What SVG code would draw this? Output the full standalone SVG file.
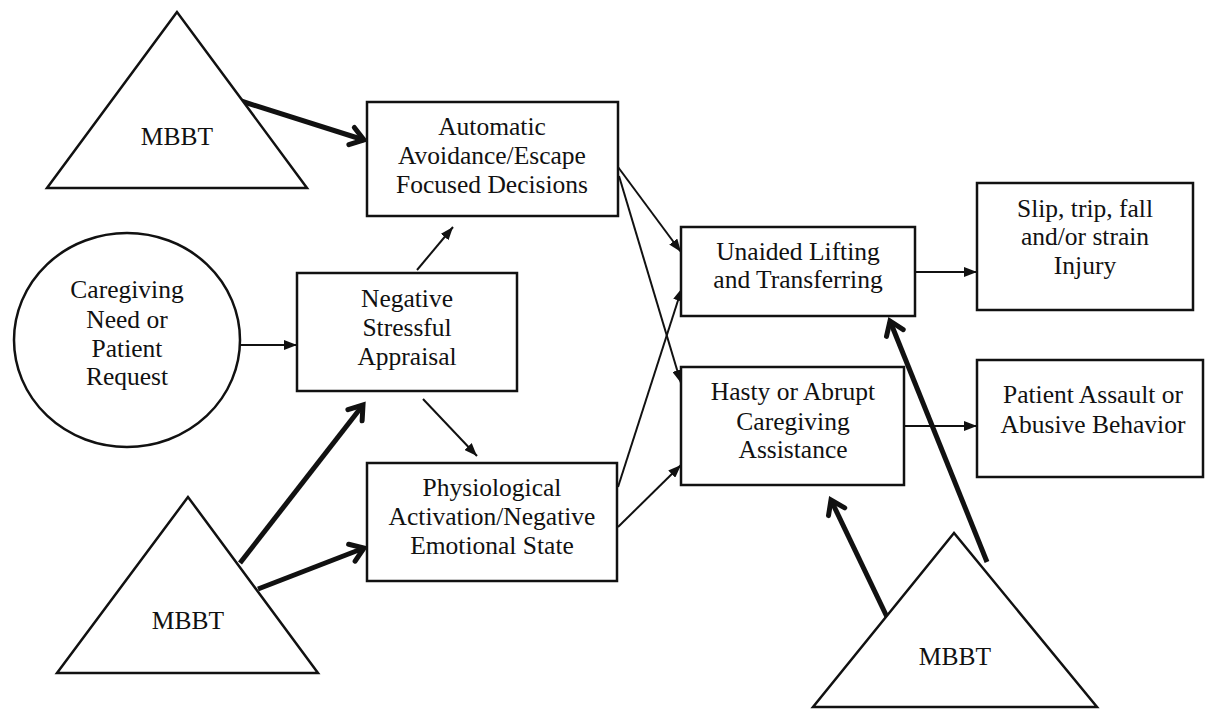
<svg xmlns="http://www.w3.org/2000/svg" width="1205" height="709" viewBox="0 0 1205 709">
<style>
.shape{fill:#fff;stroke:#111;stroke-width:2.5}
.t{font-family:'Liberation Serif','Tinos','Times New Roman','Nimbus Roman','DejaVu Serif','Noto Serif',serif;font-size:25.5px;fill:#111;text-anchor:middle}
.thin{stroke:#111;stroke-width:2;fill:none;marker-end:url(#headThin)}
.thick{stroke:#111;stroke-width:5;fill:none;marker-end:url(#headThick)}
</style>
<defs>
<marker id="headThin" viewBox="0 0 13 10" refX="13" refY="5" markerWidth="13" markerHeight="10" markerUnits="userSpaceOnUse" orient="auto">
<path d="M0,0 L13,5 L0,10 z" fill="#111"/>
</marker>
<marker id="headThick" viewBox="-18 -12 22 24" refX="0" refY="0" markerWidth="22" markerHeight="24" markerUnits="userSpaceOnUse" orient="auto" style="overflow:visible">
<path d="M-13,-9 L0,0 L-13,9" fill="none" stroke="#111" stroke-width="5" stroke-linecap="round"/>
</marker>
</defs>
<rect width="1205" height="709" fill="#fff"/>

<g id="connectors">
<line class="thick" x1="241" y1="101" x2="364" y2="140"/>
<line class="thick" x1="240" y1="563" x2="363" y2="405"/>
<line class="thick" x1="258" y1="589" x2="364" y2="548"/>
<line class="thick" x1="887" y1="617" x2="831" y2="500"/>
<line class="thick" x1="987" y1="562" x2="890" y2="321"/>
<line class="thin" x1="240" y1="345" x2="297" y2="345"/>
<line class="thin" x1="417" y1="270" x2="453" y2="227"/>
<line class="thin" x1="423" y1="399" x2="477" y2="456"/>
<line class="thin" x1="618" y1="167" x2="681" y2="252"/>
<line class="thin" x1="619" y1="176" x2="681" y2="383"/>
<line class="thin" x1="618" y1="487" x2="682" y2="288"/>
<line class="thin" x1="618" y1="527" x2="681" y2="465"/>
<line class="thin" x1="915" y1="272" x2="977" y2="272"/>
<line class="thin" x1="904" y1="426" x2="977" y2="426"/>
</g>

<g id="mbbt-top">
<polygon class="shape" points="177,12 47,188 307,188"/>
<text class="t" x="177" y="145" font-family="Liberation Serif, serif">MBBT</text>
</g>

<g id="automatic">
<rect class="shape" x="367" y="102" width="251" height="114"/>
<text class="t" x="492" y="135">Automatic</text>
<text class="t" x="492" y="164">Avoidance/Escape</text>
<text class="t" x="492" y="193">Focused Decisions</text>
</g>

<g id="caregiving-need">
<ellipse class="shape" cx="127" cy="340" rx="113" ry="107"/>
<text class="t" x="127" y="298">Caregiving</text>
<text class="t" x="127" y="328">Need or</text>
<text class="t" x="127" y="357">Patient</text>
<text class="t" x="127" y="385">Request</text>
</g>

<g id="negative-appraisal">
<rect class="shape" x="297" y="273" width="220" height="118"/>
<text class="t" x="407" y="307">Negative</text>
<text class="t" x="407" y="336">Stressful</text>
<text class="t" x="407" y="365">Appraisal</text>
</g>

<g id="physiological">
<rect class="shape" x="367" y="463" width="250" height="118"/>
<text class="t" x="492" y="496">Physiological</text>
<text class="t" x="492" y="525">Activation/Negative</text>
<text class="t" x="492" y="554">Emotional State</text>
</g>

<g id="mbbt-left">
<polygon class="shape" points="188,497 57,673 318,673"/>
<text class="t" x="188" y="629">MBBT</text>
</g>

<g id="unaided">
<rect class="shape" x="681" y="227" width="234" height="89"/>
<text class="t" x="798" y="260">Unaided Lifting</text>
<text class="t" x="798" y="288">and Transferring</text>
</g>

<g id="hasty">
<rect class="shape" x="681" y="367" width="223" height="118"/>
<text class="t" x="793" y="400">Hasty or Abrupt</text>
<text class="t" x="793" y="430">Caregiving</text>
<text class="t" x="793" y="458">Assistance</text>
</g>

<g id="slip-injury">
<rect class="shape" x="977" y="183" width="216" height="127"/>
<text class="t" x="1085" y="217">Slip, trip, fall</text>
<text class="t" x="1085" y="245">and/or strain</text>
<text class="t" x="1085" y="274">Injury</text>
</g>

<g id="patient-assault">
<rect class="shape" x="977" y="360" width="226" height="117"/>
<text class="t" x="1093" y="403">Patient Assault or</text>
<text class="t" x="1093" y="433">Abusive Behavior</text>
</g>

<g id="mbbt-right">
<polygon class="shape" points="954,533 813,707 1097,707"/>
<text class="t" x="955" y="665">MBBT</text>
</g>
</svg>
